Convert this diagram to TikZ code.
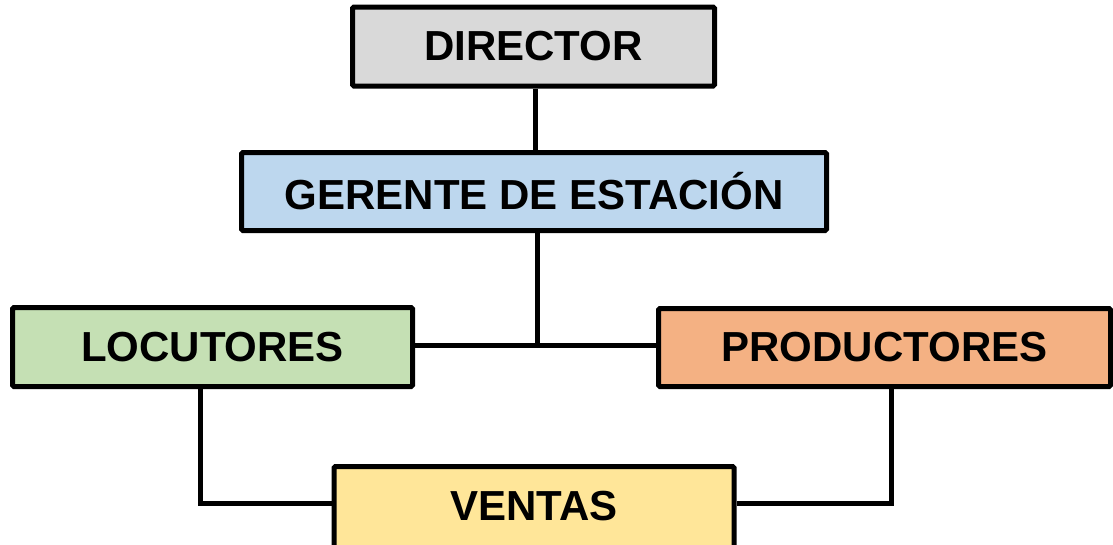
\documentclass[tikz,border=0pt]{standalone}
\usepackage{fontspec}
\setmainfont{Liberation Sans}
\definecolor{cdir}{HTML}{D9D9D9}
\definecolor{cger}{HTML}{BDD7EE}
\definecolor{cloc}{HTML}{C5E0B4}
\definecolor{cpro}{HTML}{F4B183}
\definecolor{cven}{HTML}{FFE699}
\begin{document}
\begin{tikzpicture}[x=1pt,y=-1pt,
  orgbox/.style={draw=black,line width=5pt,rounded corners=1.5pt,rectangle,inner sep=0pt,
    font=\bfseries\fontsize{42}{48}\selectfont,text=black},
  conn/.style={draw=black,line width=5pt}]
\clip (0,0) rectangle (1113,544);
\fill[white] (0,0) rectangle (1113,544);
\node[orgbox,fill=cdir,minimum width=362pt,minimum height=79pt] (dir) at (533.5,46.5) {DIRECTOR};
\node[orgbox,fill=cger,minimum width=585pt,minimum height=78pt] (ger) at (534,191.5) {GERENTE DE ESTACIÓN};
\node[orgbox,fill=cloc,minimum width=400pt,minimum height=79pt] (loc) at (212.5,347) {LOCUTORES};
\node[orgbox,fill=cpro,minimum width=452pt,minimum height=78pt] (pro) at (884.5,347.5) {PRODUCTORES};
\node[orgbox,fill=cven,minimum width=400pt,minimum height=84pt] (ven) at (534,508.5) {\raisebox{4.5pt}{VENTAS}};
\coordinate (gj) at (537,345);
\coordinate (lj) at (200,389);
\coordinate (pj) at (891,389);
\coordinate (vy) at (0,503);
\draw[conn] (dir.south -| 535,0) -- (ger.north -| 535,0);
\draw[conn] (loc.east |- gj) -- (pro.west |- gj);
\draw[conn] (ger.south -| gj) -- (gj);
\draw[conn] (lj) |- (ven.west |- vy);
\draw[conn] (pj) |- (ven.east |- vy);
\end{tikzpicture}
\end{document}
